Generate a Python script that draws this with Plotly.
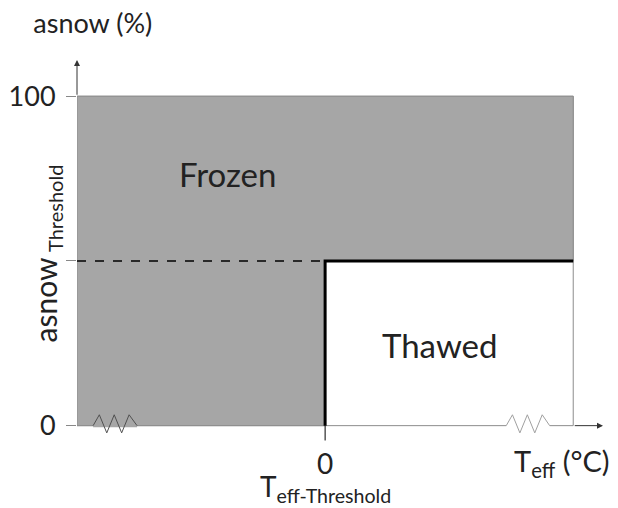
import plotly.graph_objects as go

# Data
temp_range = [-1, 1]          # left / right edge of the diagram (arbitrary units)
asnow_range = [0, 100]        # asnow (%)
temp_threshold = 0
asnow_threshold = 50
y_ticks = [0, 50, 100]
y_tick_text = ["0", "", "100"]

# zigzag "axis break" marks (x in data units, y in %)
zig_left_x = [-0.935, -0.91, -0.88, -0.85, -0.82, -0.79, -0.758]
zig_right_x = [0.73, 0.755, 0.785, 0.815, 0.845, 0.875, 0.905]
zig_y = [0, 3.3, -2.2, 3.3, -2.2, 3.3, 0]

FONT = "Lato, 'Open Sans', sans-serif"
GRAY = "#a6a6a6"
TXT = "#222222"

x0, x1 = temp_range
y0, y1 = asnow_range

fig = go.Figure()

# outline of the whole state space
fig.add_trace(go.Scatter(
    x=[x0, x1, x1, x0, x0], y=[y0, y0, y1, y1, y0],
    mode="lines", line=dict(color="#8c8c8c", width=1), hoverinfo="skip",
))

# frozen region
fig.add_trace(go.Scatter(
    x=[x0, temp_threshold, temp_threshold, x1, x1, x0, x0],
    y=[y0, y0, asnow_threshold, asnow_threshold, y1, y1, y0],
    mode="lines", fill="toself", fillcolor=GRAY,
    line=dict(color="#8c8c8c", width=1), hoverinfo="skip",
))

# dashed threshold line
fig.add_trace(go.Scatter(
    x=[x0, temp_threshold], y=[asnow_threshold, asnow_threshold],
    mode="lines", line=dict(color="black", width=1.5, dash="dash"), hoverinfo="skip",
))

# thawed boundary
fig.add_trace(go.Scatter(
    x=[temp_threshold, temp_threshold, x1], y=[y0, asnow_threshold, asnow_threshold],
    mode="lines", line=dict(color="black", width=3), hoverinfo="skip",
))
# tick below the threshold temperature
fig.add_trace(go.Scatter(
    x=[temp_threshold, temp_threshold], y=[y0, -4.5],
    mode="lines", line=dict(color="black", width=1), hoverinfo="skip",
))

# axis break marks
fig.add_trace(go.Scatter(
    x=[zig_left_x[0], zig_left_x[-1]], y=[0, 0], mode="lines",
    line=dict(color=GRAY, width=3), hoverinfo="skip",
))
fig.add_trace(go.Scatter(
    x=zig_left_x, y=zig_y, mode="lines",
    line=dict(color="#505050", width=1), hoverinfo="skip",
))
fig.add_trace(go.Scatter(
    x=[zig_right_x[0], zig_right_x[-1]], y=[0, 0], mode="lines",
    line=dict(color="white", width=3), hoverinfo="skip",
))
fig.add_trace(go.Scatter(
    x=zig_right_x, y=zig_y, mode="lines",
    line=dict(color="#a0a0a0", width=1), hoverinfo="skip",
))

# axis arrows
fig.add_annotation(x=1.12, y=0, ax=x1, ay=0, xref="x", yref="y", axref="x", ayref="y",
                   text="", showarrow=True, arrowhead=2, arrowsize=1.2, arrowwidth=1,
                   arrowcolor="#333333")
fig.add_annotation(x=x0, y=111, ax=x0, ay=y1, xref="x", yref="y", axref="x", ayref="y",
                   text="", showarrow=True, arrowhead=2, arrowsize=1.2, arrowwidth=1,
                   arrowcolor="#333333")


def label(text, x, y, size, xref="paper", yref="paper", angle=0):
    fig.add_annotation(x=x, y=y, xref=xref, yref=yref, text=text, textangle=angle,
                       showarrow=False, xanchor="center", yanchor="middle",
                       font=dict(size=size, color=TXT, family=FONT))


# region labels
label("Frozen", -0.395, 76.5, 33, "x", "y")
label("Thawed", 0.462, 24.5, 33, "x", "y")

# axis titles / special labels
label("asnow", -0.059, 38.3, 30, yref="y", angle=-90)
label("Threshold", -0.043, 65.9, 20, yref="y", angle=-90)
label("0", temp_threshold, -0.027, 28, xref="x")
label("T<sub>eff-Threshold</sub>", temp_threshold, -0.092, 28, xref="x")
label("T<sub>eff</sub> (°C)", 0.955, -0.027, 29, xref="x")

fig.update_xaxes(range=[-1, 1.12], showgrid=False, zeroline=False, showline=False,
                 showticklabels=False, ticks="", automargin=False)
fig.update_yaxes(range=[-8, 111], showgrid=False, zeroline=False, showline=False,
                 tickvals=y_ticks, ticktext=y_tick_text, ticks="outside", ticklen=10,
                 tickcolor="#888888", ticklabelstandoff=5, automargin=False,
                 tickfont=dict(size=27, color=TXT, family=FONT))

fig.update_layout(
    width=610, height=500,
    margin=dict(l=69, r=15, t=52, b=56),
    title=dict(text="asnow (%)", x=0.139, xanchor="center", xref="container",
               y=0.968, yanchor="middle", yref="container",
               font=dict(size=27, color=TXT, family=FONT)),
    plot_bgcolor="white", paper_bgcolor="white",
    showlegend=False,
)

fig.write_html("out.html")
